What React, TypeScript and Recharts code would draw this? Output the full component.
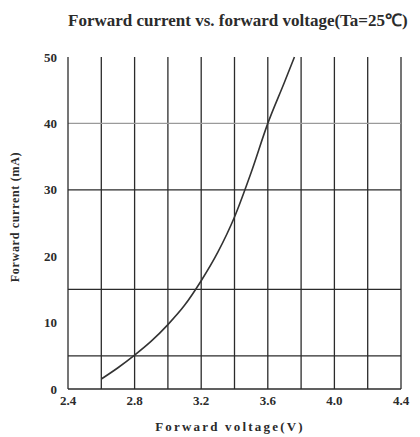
import { LineChart, Line, XAxis, YAxis, ReferenceLine } from "recharts"

// forward voltage (V) vs forward current (mA)
const voltage = [2.6, 2.7, 2.8, 2.9, 3.0, 3.1, 3.2, 3.3, 3.4, 3.5, 3.6, 3.7, 3.76]
const current = [1.5, 3.2, 5.1, 7.2, 9.7, 12.6, 16.3, 20.6, 25.9, 32.6, 40, 46.2, 50]

const xTicks = [2.4, 2.8, 3.2, 3.6, 4.0, 4.4]
const yTicks = [0, 10, 20, 30, 40, 50]

// grid lines as drawn on the sheet
const gridVoltages = [2.6, 2.8, 3.0, 3.2, 3.4, 3.6, 3.8, 4.0, 4.2, 4.4]
const gridCurrentsDark = [5, 15, 30]
const gridCurrentsLight = [40]

const chartData = voltage.map((v, i) => ({ v, i: current[i] }))

const serif = "'Liberation Serif', 'Times New Roman', serif"
const ink = "#2b2b2b"

export default function App() {
  const tickStyle = { fontFamily: serif, fontWeight: 700, fontSize: 13, fill: ink }

  return (
    <div style={{ position: "absolute", left: 0, top: 0, width: 420, height: 437, background: "#fff" }}>
      <div
        style={{
          position: "absolute",
          left: 68,
          top: 8,
          fontFamily: serif,
          fontWeight: 700,
          fontSize: 17,
          color: ink,
          whiteSpace: "nowrap",
        }}
      >
        Forward current vs. forward voltage(Ta=25℃)
      </div>

      <LineChart width={420} height={437} data={chartData} margin={{ top: 57, right: 19, bottom: 28, left: 48 }}>
        {gridVoltages.map((g) => (
          <ReferenceLine key={"x" + g} x={g} stroke={ink} strokeWidth={1.3} />
        ))}
        {gridCurrentsDark.map((g) => (
          <ReferenceLine key={"y" + g} y={g} stroke={ink} strokeWidth={1.3} />
        ))}
        {gridCurrentsLight.map((g) => (
          <ReferenceLine key={"yl" + g} y={g} stroke="#9a9a9a" strokeWidth={1.2} />
        ))}
        <XAxis
          dataKey="v"
          type="number"
          domain={[2.4, 4.4]}
          ticks={xTicks}
          tickFormatter={(t) => t.toFixed(1)}
          height={20}
          tickLine={false}
          tickSize={0}
          tickMargin={7}
          axisLine={{ stroke: ink, strokeWidth: 1.3 }}
          tick={tickStyle}
          interval={0}
        />
        <YAxis
          type="number"
          domain={[0, 50]}
          ticks={yTicks}
          width={20}
          tickLine={false}
          tickSize={0}
          tickMargin={11}
          axisLine={{ stroke: ink, strokeWidth: 1.3 }}
          tick={tickStyle}
          interval={0}
        />
        <Line
          type="monotone"
          dataKey="i"
          stroke="#333"
          strokeWidth={1.6}
          dot={false}
          isAnimationActive={false}
        />
      </LineChart>

      <div
        style={{
          position: "absolute",
          left: 230,
          top: 427,
          transform: "translate(-50%, -50%)",
          fontFamily: serif,
          fontWeight: 700,
          fontSize: 13,
          letterSpacing: 2.2,
          color: ink,
          whiteSpace: "nowrap",
        }}
      >
        Forward voltage(V)
      </div>
      <div
        style={{
          position: "absolute",
          left: 15,
          top: 217,
          transform: "translate(-50%, -50%) rotate(-90deg)",
          fontFamily: serif,
          fontWeight: 700,
          fontSize: 12,
          letterSpacing: 0.7,
          color: ink,
          whiteSpace: "nowrap",
        }}
      >
        Forward current (mA)
      </div>
    </div>
  )
}
